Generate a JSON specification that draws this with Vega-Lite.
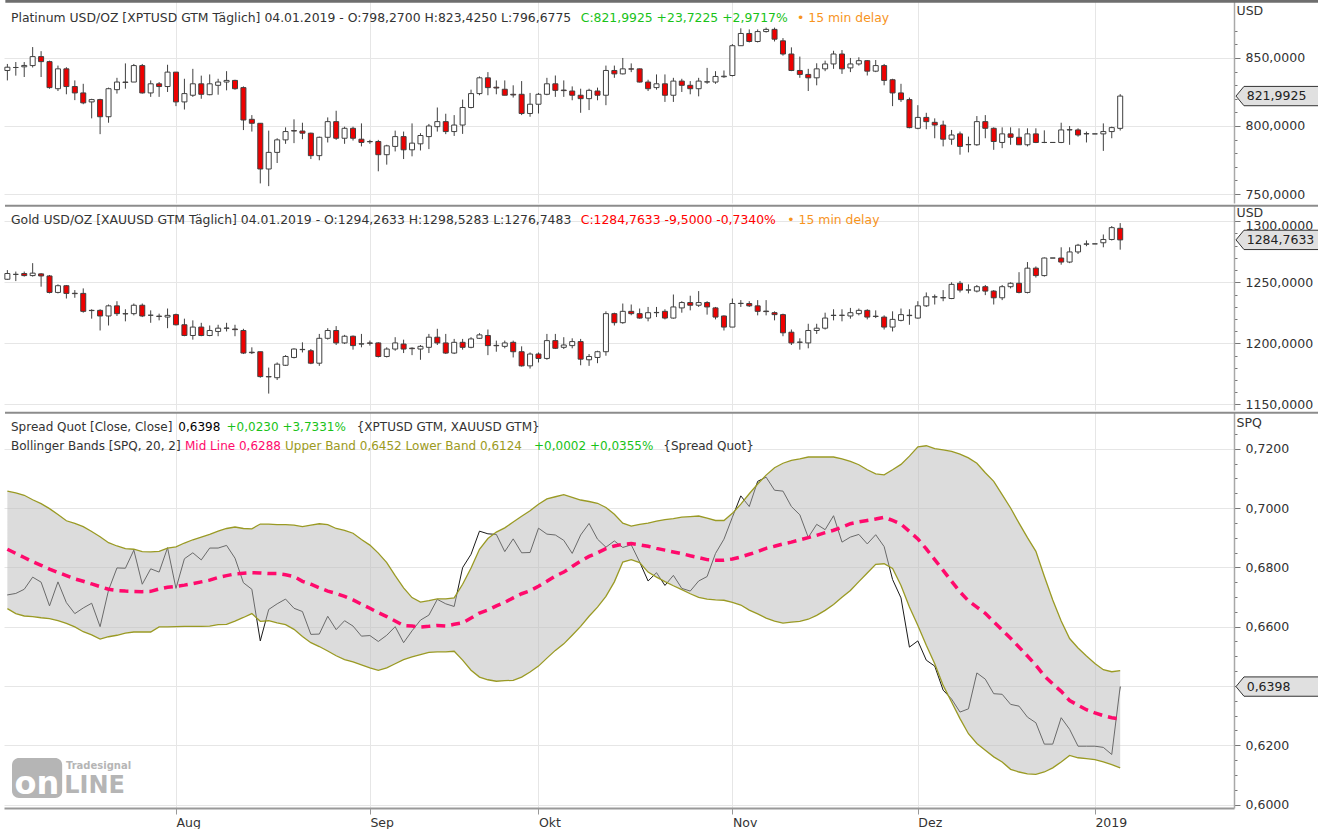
{
  "$schema": "https://vega.github.io/schema/vega-lite/v6.json",
  "usermeta": {"embedOptions": {"actions": false}},
  "padding": 0,
  "background": "white",
  "spacing": 2,
  "bounds": "flush",
  "config": {
    "font": "DejaVu Sans",
    "view": {"stroke": null},
    "bar": {"continuousBandSize": 5},
    "axis": {
      "labelFont": "DejaVu Sans", "labelFontSize": 12.5, "labelColor": "#333333", "labelOverlap": false,
      "gridColor": "#e6e6e6", "gridWidth": 1,
      "domainColor": "#a8a8a8", "tickColor": "#777777",
      "titleFont": "DejaVu Sans", "titleFontSize": 12.5, "titleFontWeight": "normal", "titleColor": "#333333"
    }
  },
  "datasets": {
    "plat": [
      {"i":0,"o":840.8,"h":845.6,"l":833.5,"c":843.2},{"i":1,"o":843,"h":847,"l":837,"c":843},{"i":2,"o":843.5,"h":847,"l":836,"c":844.5},{"i":3,"o":844.4,"h":858,"l":843,"c":851},{"i":4,"o":851,"h":855,"l":836,"c":847.3},
      {"i":5,"o":847.3,"h":848,"l":827.4,"c":828.2},{"i":6,"o":827.4,"h":844.4,"l":825.7,"c":842},{"i":7,"o":842,"h":843.2,"l":823.3,"c":829},{"i":8,"o":829,"h":833.5,"l":819,"c":824.3},{"i":9,"o":824.3,"h":831,"l":816,"c":817},
      {"i":10,"o":817.7,"h":820,"l":805.6,"c":819.4},{"i":11,"o":819.4,"h":820,"l":794,"c":806.8},{"i":12,"o":806.8,"h":828.2,"l":802.4,"c":827.4},{"i":13,"o":826.7,"h":835.4,"l":823.8,"c":832.3},{"i":14,"o":832.3,"h":846,"l":827.4,"c":832},
      {"i":15,"o":832.3,"h":845.6,"l":832.3,"c":844.4},{"i":16,"o":844.4,"h":845.6,"l":823.8,"c":824.3},{"i":17,"o":824.3,"h":833.5,"l":821.4,"c":831},{"i":18,"o":831,"h":832.3,"l":821.4,"c":829},{"i":19,"o":829,"h":845,"l":825,"c":839.6},
      {"i":20,"o":839.6,"h":839.6,"l":814.6,"c":817.7},{"i":21,"o":817.7,"h":834.7,"l":812.1,"c":823.8},{"i":22,"o":822.6,"h":842,"l":821.4,"c":831},{"i":23,"o":831,"h":837,"l":820,"c":823.3},{"i":24,"o":823,"h":837.9,"l":822.6,"c":831},
      {"i":25,"o":829.9,"h":834.7,"l":823,"c":832.3},{"i":26,"o":832.3,"h":840.3,"l":826.2,"c":833.5},{"i":27,"o":833.5,"h":834,"l":826.7,"c":827.4},{"i":28,"o":828.2,"h":829.1,"l":797,"c":804.4},{"i":29,"o":804.9,"h":808,"l":795.9,"c":802},
      {"i":30,"o":802,"h":802,"l":757.8,"c":768.4},{"i":31,"o":768.4,"h":796.6,"l":755.8,"c":780.6},{"i":32,"o":780.6,"h":791,"l":772.8,"c":789.8},{"i":33,"o":789.8,"h":799,"l":786.9,"c":795.9},{"i":34,"o":796.6,"h":804.9,"l":787.4,"c":796.3},
      {"i":35,"o":796.3,"h":802.4,"l":790.3,"c":794.7},{"i":36,"o":794.7,"h":795.1,"l":775.7,"c":778.2},{"i":37,"o":778.2,"h":792.2,"l":774.8,"c":791.7},{"i":38,"o":791.7,"h":806.3,"l":787.9,"c":803.2},{"i":39,"o":803.2,"h":811.2,"l":789.8,"c":791},
      {"i":40,"o":791,"h":799.5,"l":786.9,"c":798.3},{"i":41,"o":798.3,"h":799.5,"l":789.3,"c":791},{"i":42,"o":790.3,"h":801.9,"l":785,"c":787.9},{"i":43,"o":788.6,"h":789.8,"l":786.9,"c":788.4},{"i":44,"o":788.6,"h":789.8,"l":766.7,"c":778.9},
      {"i":45,"o":778.9,"h":786.2,"l":771.6,"c":785.4},{"i":46,"o":785,"h":796.6,"l":781.3,"c":792.2},{"i":47,"o":792.2,"h":795.9,"l":775.7,"c":782.5},{"i":48,"o":782.5,"h":801.9,"l":777.7,"c":787.4},{"i":49,"o":786.9,"h":794.7,"l":782,"c":793},
      {"i":50,"o":792.2,"h":801.5,"l":783,"c":800},{"i":51,"o":799.5,"h":813.6,"l":795.9,"c":803.2},{"i":52,"o":803.2,"h":809,"l":794,"c":795.9},{"i":53,"o":795.9,"h":808,"l":792.7,"c":800.7},{"i":54,"o":800.7,"h":819.4,"l":794.2,"c":813.6},
      {"i":55,"o":813.6,"h":826.7,"l":812.9,"c":823.8},{"i":56,"o":823.8,"h":836.4,"l":822.6,"c":835.4},{"i":57,"o":835.4,"h":839.6,"l":822.6,"c":828.2},{"i":58,"o":828.5,"h":833.5,"l":823.3,"c":827.9},{"i":59,"o":827,"h":833.5,"l":822.6,"c":822.6},
      {"i":60,"o":823.3,"h":829.9,"l":820.9,"c":822.8},{"i":61,"o":823.3,"h":833,"l":808,"c":809.2},{"i":62,"o":809.2,"h":824.3,"l":806.8,"c":816},{"i":63,"o":816,"h":824.3,"l":809.2,"c":823.3},{"i":64,"o":823.3,"h":835.4,"l":822.6,"c":831},
      {"i":65,"o":831,"h":837.1,"l":821.4,"c":826.2},{"i":66,"o":826.4,"h":833.5,"l":821.4,"c":826},{"i":67,"o":825.7,"h":829.1,"l":818.9,"c":822.6},{"i":68,"o":822.6,"h":827.4,"l":809.7,"c":820.1},{"i":69,"o":820.1,"h":827.4,"l":811.7,"c":826.2},
      {"i":70,"o":825.7,"h":828.2,"l":818.9,"c":822.6},{"i":71,"o":822.6,"h":844.4,"l":815.3,"c":840.8},{"i":72,"o":840.8,"h":844.4,"l":835.4,"c":838.3},{"i":73,"o":838.3,"h":850,"l":837.9,"c":842},{"i":74,"o":842,"h":846,"l":839.6,"c":841.8},
      {"i":75,"o":842,"h":842.2,"l":832,"c":832.3},{"i":76,"o":832.3,"h":834,"l":825.7,"c":827.4},{"i":77,"o":828.2,"h":837.9,"l":826.7,"c":831},{"i":78,"o":831,"h":837.9,"l":817.7,"c":822.6},{"i":79,"o":822.6,"h":835.4,"l":817.7,"c":833},
      {"i":80,"o":833,"h":834.7,"l":825,"c":829.9},{"i":81,"o":829.9,"h":833,"l":823.3,"c":827.4},{"i":82,"o":827.4,"h":835.4,"l":821.8,"c":833},{"i":83,"o":832.3,"h":842.7,"l":831,"c":832.5},{"i":84,"o":832.3,"h":840.3,"l":831,"c":836.4},
      {"i":85,"o":836.2,"h":840.8,"l":835.4,"c":836.6},{"i":86,"o":837.1,"h":860.2,"l":836.4,"c":859},{"i":87,"o":859,"h":871.8,"l":859,"c":868},{"i":88,"o":868,"h":871,"l":861.4,"c":862.1},{"i":89,"o":862.1,"h":871,"l":861.4,"c":869.4},
      {"i":90,"o":869.4,"h":872.3,"l":868.7,"c":871},{"i":91,"o":871,"h":872.3,"l":862.1,"c":863.8},{"i":92,"o":862.6,"h":864.6,"l":851.7,"c":852.9},{"i":93,"o":852.9,"h":857.8,"l":840.3,"c":840.8},{"i":94,"o":840.8,"h":851,"l":835.4,"c":837.9},
      {"i":95,"o":837.9,"h":842,"l":825.7,"c":835.4},{"i":96,"o":835.4,"h":846.1,"l":829.9,"c":842},{"i":97,"o":842,"h":848,"l":840.3,"c":845.6},{"i":98,"o":845.6,"h":855.3,"l":842,"c":852.9},{"i":99,"o":852.9,"h":855.8,"l":838.3,"c":842},
      {"i":100,"o":842.7,"h":850,"l":839.6,"c":845.6},{"i":101,"o":845.6,"h":850.5,"l":844.4,"c":848},{"i":102,"o":848,"h":848.5,"l":837.1,"c":840.3},{"i":103,"o":840.3,"h":848.5,"l":839.6,"c":844.4},{"i":104,"o":844.4,"h":845.6,"l":829.9,"c":833.5},
      {"i":105,"o":834,"h":834.7,"l":814.6,"c":824.3},{"i":106,"o":824.3,"h":831,"l":817.7,"c":819.4},{"i":107,"o":819.4,"h":820.9,"l":798.3,"c":798.8},{"i":108,"o":798.3,"h":815.3,"l":797.6,"c":806.3},{"i":109,"o":806.3,"h":809.7,"l":797.6,"c":803.2},
      {"i":110,"o":802.7,"h":805.6,"l":791,"c":800.7},{"i":111,"o":800.7,"h":803.9,"l":785,"c":790.3},{"i":112,"o":790.3,"h":797.1,"l":786.2,"c":793.4},{"i":113,"o":794.2,"h":795.9,"l":778.9,"c":785},{"i":114,"o":786.2,"h":792.2,"l":780.6,"c":786.4},
      {"i":115,"o":786.2,"h":807.3,"l":785.4,"c":803.2},{"i":116,"o":803.2,"h":808,"l":791,"c":798.3},{"i":117,"o":798.3,"h":799,"l":782.5,"c":788.6},{"i":118,"o":787.9,"h":799,"l":783.7,"c":794.2},{"i":119,"o":794.2,"h":799,"l":786.2,"c":791.7},
      {"i":120,"o":791.7,"h":798.3,"l":786.2,"c":786.2},{"i":121,"o":786.2,"h":798.3,"l":785,"c":794.2},{"i":122,"o":794.2,"h":798.3,"l":787.4,"c":787.9},{"i":123,"o":787.9,"h":796.8,"l":787.4,"c":787.9},{"i":124,"o":787.9,"h":787.9,"l":787.9,"c":787.9},
      {"i":125,"o":787.9,"h":802.4,"l":787.4,"c":797.1},{"i":126,"o":797.1,"h":800,"l":786.2,"c":797.3},{"i":127,"o":797.1,"h":798.3,"l":792.2,"c":793.4},{"i":128,"o":794.4,"h":795.9,"l":787.9,"c":794.2},{"i":129,"o":794.2,"h":794.2,"l":794.2,"c":794.2},
      {"i":130,"o":794.2,"h":801.9,"l":781.7,"c":795.9},{"i":131,"o":795.9,"h":799.5,"l":791,"c":798.8},{"i":132,"o":798.27,"h":823.425,"l":796.6775,"c":821.9925}
    ],
    "gold": [
      {"i":0,"o":1252.5,"h":1260,"l":1252,"c":1257.2},{"i":1,"o":1256.5,"h":1258.8,"l":1251,"c":1256.5},{"i":2,"o":1257.2,"h":1258.8,"l":1254.7,"c":1255.5},{"i":3,"o":1255.5,"h":1265.7,"l":1254.7,"c":1257.5},{"i":4,"o":1256.9,"h":1257.5,"l":1246.4,"c":1255.2},
      {"i":5,"o":1255.2,"h":1256,"l":1240.9,"c":1241.7},{"i":6,"o":1241.7,"h":1248.3,"l":1240.9,"c":1247.2},{"i":7,"o":1247.2,"h":1247.8,"l":1236.7,"c":1240.9},{"i":8,"o":1241,"h":1243.6,"l":1237.3,"c":1240.7},{"i":9,"o":1240.9,"h":1245,"l":1225.1,"c":1226.2},
      {"i":10,"o":1227,"h":1227.9,"l":1220.2,"c":1226.8},{"i":11,"o":1227,"h":1227.9,"l":1210.5,"c":1222.4},{"i":12,"o":1222.4,"h":1231.8,"l":1214.6,"c":1230.7},{"i":13,"o":1230.7,"h":1234.5,"l":1222.4,"c":1224.3},{"i":14,"o":1224.3,"h":1227.9,"l":1218,"c":1224.1},
      {"i":15,"o":1224.3,"h":1232.6,"l":1222.9,"c":1231.2},{"i":16,"o":1231.2,"h":1232.6,"l":1221.5,"c":1222.4},{"i":17,"o":1223,"h":1227,"l":1216.8,"c":1223},{"i":18,"o":1222.3,"h":1224.3,"l":1218.8,"c":1222},{"i":19,"o":1221.5,"h":1228.5,"l":1212.4,"c":1222.9},
      {"i":20,"o":1223.5,"h":1224.3,"l":1214.6,"c":1215.2},{"i":21,"o":1215.2,"h":1220.2,"l":1205.8,"c":1206.4},{"i":22,"o":1206.4,"h":1218.8,"l":1203,"c":1213.3},{"i":23,"o":1213.3,"h":1216.8,"l":1205.8,"c":1206.4},{"i":24,"o":1206.4,"h":1214.6,"l":1205.8,"c":1210.5},
      {"i":25,"o":1209.7,"h":1215.2,"l":1205.8,"c":1212.4},{"i":26,"o":1212.3,"h":1216.8,"l":1209.7,"c":1212.5},{"i":27,"o":1211.7,"h":1215.2,"l":1205.8,"c":1211.2},{"i":28,"o":1210.5,"h":1211.9,"l":1191.2,"c":1192},{"i":29,"o":1192.7,"h":1196.7,"l":1191.2,"c":1192.3},
      {"i":30,"o":1193.1,"h":1193.1,"l":1171.8,"c":1172.7},{"i":31,"o":1172.7,"h":1180.1,"l":1158.8,"c":1172.5},{"i":32,"o":1171.8,"h":1184.3,"l":1169.9,"c":1182.9},{"i":33,"o":1182,"h":1190.3,"l":1181.5,"c":1189.2},{"i":34,"o":1188.4,"h":1195.9,"l":1187.6,"c":1195.3},
      {"i":35,"o":1195,"h":1200.8,"l":1192.5,"c":1194.8},{"i":36,"o":1193.9,"h":1195.3,"l":1182.9,"c":1183.7},{"i":37,"o":1183.7,"h":1207.7,"l":1181.5,"c":1204.1},{"i":38,"o":1204.1,"h":1212.4,"l":1203,"c":1210.5},{"i":39,"o":1210.5,"h":1214.1,"l":1198.6,"c":1200.3},
      {"i":40,"o":1200.3,"h":1206.9,"l":1199.4,"c":1205.8},{"i":41,"o":1205.8,"h":1206.4,"l":1194.8,"c":1198.1},{"i":42,"o":1199.4,"h":1207.7,"l":1196.7,"c":1199.6},{"i":43,"o":1200.3,"h":1202.2,"l":1198.1,"c":1200},{"i":44,"o":1200.3,"h":1200.8,"l":1188.4,"c":1189.2},
      {"i":45,"o":1189.2,"h":1196.7,"l":1188.4,"c":1195.3},{"i":46,"o":1195.3,"h":1205,"l":1193.9,"c":1200.3},{"i":47,"o":1199.4,"h":1203,"l":1192,"c":1195.3},{"i":48,"o":1196,"h":1196.7,"l":1190.3,"c":1195.6},{"i":49,"o":1195.3,"h":1198.6,"l":1186.5,"c":1197.5},
      {"i":50,"o":1196.7,"h":1207.7,"l":1192,"c":1205},{"i":51,"o":1205,"h":1211.9,"l":1198.6,"c":1200.3},{"i":52,"o":1200.3,"h":1207.7,"l":1191.2,"c":1192},{"i":53,"o":1192,"h":1203.6,"l":1191.2,"c":1200.8},{"i":54,"o":1200.8,"h":1203.6,"l":1194.8,"c":1196.7},
      {"i":55,"o":1196.7,"h":1205,"l":1195.9,"c":1203.6},{"i":56,"o":1204.1,"h":1208.3,"l":1203.6,"c":1206.9},{"i":57,"o":1206.4,"h":1211.3,"l":1190.3,"c":1198.1},{"i":58,"o":1198.3,"h":1202.2,"l":1193.1,"c":1198},{"i":59,"o":1197.5,"h":1202.2,"l":1195.9,"c":1200.3},
      {"i":60,"o":1200.8,"h":1202.2,"l":1188.4,"c":1193.1},{"i":61,"o":1193.1,"h":1197.5,"l":1180.9,"c":1181.5},{"i":62,"o":1181.5,"h":1192.5,"l":1179.3,"c":1191.2},{"i":63,"o":1191.2,"h":1192.5,"l":1184.3,"c":1187.6},{"i":64,"o":1187.6,"h":1207.7,"l":1186.5,"c":1202.2},
      {"i":65,"o":1202.2,"h":1207.7,"l":1195.3,"c":1195.9},{"i":66,"o":1196.7,"h":1205,"l":1195.3,"c":1198.6},{"i":67,"o":1198.1,"h":1204.1,"l":1195.9,"c":1201.4},{"i":68,"o":1201.4,"h":1203.6,"l":1182,"c":1187},{"i":69,"o":1186.5,"h":1191.2,"l":1181.5,"c":1189.2},
      {"i":70,"o":1188.4,"h":1193.9,"l":1183.7,"c":1193.1},{"i":71,"o":1193.1,"h":1226.2,"l":1189.8,"c":1224.3},{"i":72,"o":1224.3,"h":1225.1,"l":1214.6,"c":1216.9},{"i":73,"o":1216.9,"h":1232.6,"l":1216,"c":1226.2},{"i":74,"o":1226.2,"h":1231.8,"l":1223,"c":1224.3},
      {"i":75,"o":1224.3,"h":1228.5,"l":1220.2,"c":1220.7},{"i":76,"o":1220.7,"h":1229.8,"l":1218,"c":1225.1},{"i":77,"o":1225.1,"h":1229.8,"l":1221.5,"c":1225.3},{"i":78,"o":1226.2,"h":1227.9,"l":1219.6,"c":1220.7},{"i":79,"o":1220.7,"h":1240,"l":1220.2,"c":1229.8},
      {"i":80,"o":1229,"h":1234.5,"l":1225.1,"c":1233.4},{"i":81,"o":1233.4,"h":1239,"l":1227,"c":1231.2},{"i":82,"o":1231.2,"h":1242.8,"l":1229.8,"c":1233.4},{"i":83,"o":1233.4,"h":1234.5,"l":1223.5,"c":1229.8},{"i":84,"o":1229,"h":1229.8,"l":1219.6,"c":1221.5},
      {"i":85,"o":1222.4,"h":1222.9,"l":1210.5,"c":1213.3},{"i":86,"o":1213.3,"h":1236.7,"l":1213.3,"c":1232.6},{"i":87,"o":1232.6,"h":1235.4,"l":1229.8,"c":1232.8},{"i":88,"o":1232.6,"h":1234.5,"l":1229.8,"c":1230.7},{"i":89,"o":1230.7,"h":1235.4,"l":1222.9,"c":1226.2},
      {"i":90,"o":1226.4,"h":1235.4,"l":1222.9,"c":1226},{"i":91,"o":1225.1,"h":1226.2,"l":1218.8,"c":1223.5},{"i":92,"o":1223.5,"h":1224.3,"l":1205.8,"c":1208.6},{"i":93,"o":1209.1,"h":1211.3,"l":1198.6,"c":1200.3},{"i":94,"o":1200.8,"h":1204.1,"l":1194.8,"c":1201},
      {"i":95,"o":1200.3,"h":1216,"l":1195.9,"c":1210.5},{"i":96,"o":1210.5,"h":1216,"l":1207.7,"c":1212.4},{"i":97,"o":1212.4,"h":1225.1,"l":1211.3,"c":1220.7},{"i":98,"o":1222.8,"h":1227.9,"l":1218.8,"c":1223},{"i":99,"o":1223,"h":1227.9,"l":1218,"c":1222.9},
      {"i":100,"o":1222.4,"h":1229,"l":1220.2,"c":1225.1},{"i":101,"o":1224.3,"h":1228.5,"l":1222.9,"c":1227},{"i":102,"o":1227,"h":1227.9,"l":1219.6,"c":1221.5},{"i":103,"o":1222.2,"h":1227,"l":1220.7,"c":1222},{"i":104,"o":1221.5,"h":1222.9,"l":1211.3,"c":1213.3},
      {"i":105,"o":1213.3,"h":1226.2,"l":1209.7,"c":1219.6},{"i":106,"o":1218.8,"h":1228.5,"l":1218,"c":1223.5},{"i":107,"o":1222.7,"h":1227.9,"l":1215.2,"c":1223},{"i":108,"o":1220.7,"h":1234.5,"l":1220.2,"c":1230.7},{"i":109,"o":1230.7,"h":1241.7,"l":1229.8,"c":1238.1},
      {"i":110,"o":1238,"h":1240,"l":1231.8,"c":1238.1},{"i":111,"o":1237.2,"h":1243.6,"l":1234.5,"c":1237.5},{"i":112,"o":1236.7,"h":1250,"l":1236.2,"c":1248.3},{"i":113,"o":1249.2,"h":1251.1,"l":1241.7,"c":1243.6},{"i":114,"o":1243.6,"h":1248.3,"l":1240.9,"c":1243.8},
      {"i":115,"o":1242.8,"h":1247.8,"l":1241.7,"c":1246.4},{"i":116,"o":1246.4,"h":1247.8,"l":1239.5,"c":1242.8},{"i":117,"o":1242.8,"h":1243.6,"l":1231.8,"c":1237.3},{"i":118,"o":1237.3,"h":1247.8,"l":1235.4,"c":1246.4},{"i":119,"o":1246.4,"h":1250,"l":1245,"c":1249.2},
      {"i":120,"o":1249.2,"h":1258.3,"l":1240.9,"c":1241.7},{"i":121,"o":1241.7,"h":1266.6,"l":1240.9,"c":1261.6},{"i":122,"o":1261.6,"h":1263,"l":1253.9,"c":1255.5},{"i":123,"o":1255.5,"h":1270.4,"l":1254.7,"c":1269.9},{"i":124,"o":1269.9,"h":1269.9,"l":1269.9,"c":1269.9},
      {"i":125,"o":1269.9,"h":1278.7,"l":1264.4,"c":1266.6},{"i":126,"o":1266.6,"h":1278.7,"l":1265.7,"c":1274.9},{"i":127,"o":1274.9,"h":1281.5,"l":1273.2,"c":1280.4},{"i":128,"o":1281.2,"h":1284.3,"l":1279.6,"c":1281.5},{"i":129,"o":1281.5,"h":1281.5,"l":1281.5,"c":1281.5},
      {"i":130,"o":1282.4,"h":1289.2,"l":1278.7,"c":1285.1},{"i":131,"o":1285.1,"h":1296.1,"l":1284.3,"c":1294.8},{"i":132,"o":1294.2633,"h":1298.5283,"l":1276.7483,"c":1284.7633}
    ],
    "spq": [
      {"i":0,"s":0.6707,"m":0.6861,"u":0.7057,"lo":0.6661},{"i":1,"s":0.6712,"m":0.6847,"u":0.7051,"lo":0.6644},{"i":2,"s":0.6726,"m":0.6833,"u":0.7043,"lo":0.6636},{"i":3,"s":0.6767,"m":0.6819,"u":0.7028,"lo":0.6634},{"i":4,"s":0.675,"m":0.6807,"u":0.7015,"lo":0.663},
      {"i":5,"s":0.667,"m":0.6794,"u":0.6998,"lo":0.6627},{"i":6,"s":0.6751,"m":0.6783,"u":0.6978,"lo":0.662},{"i":7,"s":0.6681,"m":0.6772,"u":0.6957,"lo":0.6611},{"i":8,"s":0.6644,"m":0.6761,"u":0.6948,"lo":0.6599},{"i":9,"s":0.6663,"m":0.6753,"u":0.6937,"lo":0.6583},
      {"i":10,"s":0.6679,"m":0.6744,"u":0.6921,"lo":0.6572},{"i":11,"s":0.66,"m":0.6735,"u":0.6903,"lo":0.6558},{"i":12,"s":0.6723,"m":0.6726,"u":0.6883,"lo":0.6566},{"i":13,"s":0.6798,"m":0.6722,"u":0.6872,"lo":0.6571},{"i":14,"s":0.6797,"m":0.672,"u":0.6863,"lo":0.6578},
      {"i":15,"s":0.6858,"m":0.6719,"u":0.6861,"lo":0.6582},{"i":16,"s":0.6743,"m":0.6718,"u":0.6853,"lo":0.6582},{"i":17,"s":0.6795,"m":0.6719,"u":0.6852,"lo":0.6582},{"i":18,"s":0.6784,"m":0.6727,"u":0.6854,"lo":0.6599},{"i":19,"s":0.6866,"m":0.6733,"u":0.6865,"lo":0.6599},
      {"i":20,"s":0.6729,"m":0.6736,"u":0.6869,"lo":0.66},{"i":21,"s":0.6829,"m":0.674,"u":0.6882,"lo":0.6601},{"i":22,"s":0.6849,"m":0.6745,"u":0.6893,"lo":0.6601},{"i":23,"s":0.6825,"m":0.6751,"u":0.6902,"lo":0.6601},{"i":24,"s":0.6865,"m":0.6757,"u":0.6911,"lo":0.6602},
      {"i":25,"s":0.6865,"m":0.6766,"u":0.6922,"lo":0.6607},{"i":26,"s":0.6874,"m":0.6772,"u":0.6931,"lo":0.6608},{"i":27,"s":0.6831,"m":0.6778,"u":0.6936,"lo":0.6619},{"i":28,"s":0.6748,"m":0.678,"u":0.6931,"lo":0.6631},{"i":29,"s":0.6726,"m":0.6782,"u":0.693,"lo":0.6644},
      {"i":30,"s":0.6552,"m":0.6781,"u":0.6946,"lo":0.6618},{"i":31,"s":0.6658,"m":0.6779,"u":0.6946,"lo":0.662},{"i":32,"s":0.6677,"m":0.6779,"u":0.6944,"lo":0.6613},{"i":33,"s":0.6693,"m":0.6775,"u":0.6944,"lo":0.6607},{"i":34,"s":0.6662,"m":0.6769,"u":0.6942,"lo":0.6591},
      {"i":35,"s":0.6651,"m":0.6753,"u":0.6937,"lo":0.6567},{"i":36,"s":0.6574,"m":0.6743,"u":0.6942,"lo":0.6546},{"i":37,"s":0.6575,"m":0.6731,"u":0.6947,"lo":0.6533},{"i":38,"s":0.6635,"m":0.672,"u":0.6944,"lo":0.6518},{"i":39,"s":0.659,"m":0.6712,"u":0.6931,"lo":0.6502},
      {"i":40,"s":0.662,"m":0.6702,"u":0.6925,"lo":0.6489},{"i":41,"s":0.6602,"m":0.669,"u":0.6915,"lo":0.6481},{"i":42,"s":0.6568,"m":0.6676,"u":0.6894,"lo":0.6471},{"i":43,"s":0.657,"m":0.6662,"u":0.6875,"lo":0.6461},{"i":44,"s":0.655,"m":0.6647,"u":0.6848,"lo":0.6453},
      {"i":45,"s":0.6571,"m":0.6634,"u":0.6816,"lo":0.6461},{"i":46,"s":0.66,"m":0.6619,"u":0.6772,"lo":0.6475},{"i":47,"s":0.6546,"m":0.6604,"u":0.6731,"lo":0.6489},{"i":48,"s":0.6586,"m":0.6602,"u":0.6698,"lo":0.6498},{"i":49,"s":0.6622,"m":0.6599,"u":0.6683,"lo":0.6506},
      {"i":50,"s":0.6639,"m":0.6601,"u":0.6688,"lo":0.6513},{"i":51,"s":0.6692,"m":0.6604,"u":0.6694,"lo":0.6515},{"i":52,"s":0.6677,"m":0.6602,"u":0.6694,"lo":0.6515},{"i":53,"s":0.6668,"m":0.6608,"u":0.6697,"lo":0.6517},{"i":54,"s":0.6799,"m":0.6613,"u":0.6743,"lo":0.6487},
      {"i":55,"s":0.6844,"m":0.6629,"u":0.6798,"lo":0.6453},{"i":56,"s":0.6922,"m":0.6646,"u":0.6861,"lo":0.643},{"i":57,"s":0.6913,"m":0.6656,"u":0.6897,"lo":0.6421},{"i":58,"s":0.6911,"m":0.667,"u":0.6919,"lo":0.6416},{"i":59,"s":0.6853,"m":0.6682,"u":0.6933,"lo":0.6418},
      {"i":60,"s":0.6896,"m":0.6697,"u":0.6953,"lo":0.6419},{"i":61,"s":0.6849,"m":0.6711,"u":0.6972,"lo":0.643},{"i":62,"s":0.685,"m":0.6721,"u":0.6991,"lo":0.6447},{"i":63,"s":0.6932,"m":0.6736,"u":0.7013,"lo":0.6467},{"i":64,"s":0.6912,"m":0.6753,"u":0.7031,"lo":0.6494},
      {"i":65,"s":0.6909,"m":0.6771,"u":0.7038,"lo":0.652},{"i":66,"s":0.6891,"m":0.6784,"u":0.7045,"lo":0.6542},{"i":67,"s":0.6847,"m":0.6803,"u":0.7036,"lo":0.6571},{"i":68,"s":0.6909,"m":0.6821,"u":0.7027,"lo":0.6601},{"i":69,"s":0.6948,"m":0.6837,"u":0.7022,"lo":0.6635},
      {"i":70,"s":0.6895,"m":0.6849,"u":0.7016,"lo":0.6666},{"i":71,"s":0.6868,"m":0.6863,"u":0.7002,"lo":0.6702},{"i":72,"s":0.6889,"m":0.6872,"u":0.6979,"lo":0.6751},{"i":73,"s":0.6867,"m":0.6878,"u":0.6949,"lo":0.6818},{"i":74,"s":0.6876,"m":0.688,"u":0.6939,"lo":0.6826},
      {"i":75,"s":0.6818,"m":0.6876,"u":0.6945,"lo":0.6816},{"i":76,"s":0.6754,"m":0.6871,"u":0.6949,"lo":0.6784},{"i":77,"s":0.6782,"m":0.6864,"u":0.6956,"lo":0.6767},{"i":78,"s":0.6739,"m":0.6858,"u":0.6961,"lo":0.6752},{"i":79,"s":0.6773,"m":0.6852,"u":0.6964,"lo":0.6738},
      {"i":80,"s":0.6729,"m":0.6846,"u":0.6969,"lo":0.6725},{"i":81,"s":0.672,"m":0.6839,"u":0.6971,"lo":0.6711},{"i":82,"s":0.6754,"m":0.6833,"u":0.6973,"lo":0.6699},{"i":83,"s":0.6769,"m":0.6826,"u":0.6966,"lo":0.6693},{"i":84,"s":0.6847,"m":0.6824,"u":0.6958,"lo":0.669},
      {"i":85,"s":0.6895,"m":0.6824,"u":0.6958,"lo":0.6689},{"i":86,"s":0.6969,"m":0.6828,"u":0.6982,"lo":0.6682},{"i":87,"s":0.7041,"m":0.6835,"u":0.7013,"lo":0.6673},{"i":88,"s":0.7005,"m":0.6844,"u":0.7048,"lo":0.6656},{"i":89,"s":0.709,"m":0.6853,"u":0.7081,"lo":0.6643},
      {"i":90,"s":0.7104,"m":0.6864,"u":0.7111,"lo":0.6629},{"i":91,"s":0.706,"m":0.6871,"u":0.7136,"lo":0.6619},{"i":92,"s":0.7057,"m":0.6879,"u":0.7151,"lo":0.6612},{"i":93,"s":0.7005,"m":0.6885,"u":0.7161,"lo":0.6615},{"i":94,"s":0.6977,"m":0.6893,"u":0.7166,"lo":0.6618},
      {"i":95,"s":0.6901,"m":0.69,"u":0.7172,"lo":0.6625},{"i":96,"s":0.6945,"m":0.6908,"u":0.7172,"lo":0.6638},{"i":97,"s":0.6927,"m":0.6917,"u":0.7172,"lo":0.6655},{"i":98,"s":0.6974,"m":0.6925,"u":0.7172,"lo":0.6675},{"i":99,"s":0.6885,"m":0.6935,"u":0.7166,"lo":0.6699},
      {"i":100,"s":0.6902,"m":0.6947,"u":0.7157,"lo":0.6722},{"i":101,"s":0.6911,"m":0.6953,"u":0.7146,"lo":0.6752},{"i":102,"s":0.6879,"m":0.6958,"u":0.7129,"lo":0.6781},{"i":103,"s":0.691,"m":0.6963,"u":0.7115,"lo":0.681},{"i":104,"s":0.687,"m":0.6969,"u":0.7112,"lo":0.6812},
      {"i":105,"s":0.6759,"m":0.6958,"u":0.7129,"lo":0.6796},{"i":106,"s":0.6697,"m":0.6946,"u":0.7147,"lo":0.6739},{"i":107,"s":0.6531,"m":0.6921,"u":0.7175,"lo":0.6666},{"i":108,"s":0.6552,"m":0.6896,"u":0.7206,"lo":0.6604},{"i":109,"s":0.6487,"m":0.6862,"u":0.721,"lo":0.6537},
      {"i":110,"s":0.6467,"m":0.6826,"u":0.72,"lo":0.6475},{"i":111,"s":0.6386,"m":0.679,"u":0.7196,"lo":0.6402},{"i":112,"s":0.6356,"m":0.6753,"u":0.7191,"lo":0.6346},{"i":113,"s":0.6312,"m":0.6717,"u":0.7182,"lo":0.629},{"i":114,"s":0.6323,"m":0.6687,"u":0.7169,"lo":0.6239},
      {"i":115,"s":0.6444,"m":0.6666,"u":0.7151,"lo":0.6206},{"i":116,"s":0.6423,"m":0.6645,"u":0.7119,"lo":0.6183},{"i":117,"s":0.6374,"m":0.6617,"u":0.709,"lo":0.6161},{"i":118,"s":0.6372,"m":0.6589,"u":0.7045,"lo":0.6144},{"i":119,"s":0.6338,"m":0.6561,"u":0.7,"lo":0.6119},
      {"i":120,"s":0.6332,"m":0.6531,"u":0.6949,"lo":0.611},{"i":121,"s":0.6295,"m":0.6501,"u":0.69,"lo":0.6104},{"i":122,"s":0.6276,"m":0.647,"u":0.6854,"lo":0.6102},{"i":123,"s":0.6204,"m":0.6434,"u":0.677,"lo":0.611},{"i":124,"s":0.6204,"m":0.6407,"u":0.669,"lo":0.6124},
      {"i":125,"s":0.6293,"m":0.6382,"u":0.6619,"lo":0.6144},{"i":126,"s":0.6254,"m":0.6351,"u":0.656,"lo":0.6166},{"i":127,"s":0.6197,"m":0.6335,"u":0.6528,"lo":0.6158},{"i":128,"s":0.6197,"m":0.632,"u":0.6501,"lo":0.6155},{"i":129,"s":0.6197,"m":0.6309,"u":0.6476,"lo":0.6152},
      {"i":130,"s":0.6193,"m":0.63,"u":0.6455,"lo":0.6144},{"i":131,"s":0.6169,"m":0.6293,"u":0.6448,"lo":0.6135},{"i":132,"s":0.6398,"m":0.6288,"u":0.6452,"lo":0.6124}
    ]
  },
  "vconcat": [
    {
      "width": 1230,
      "height": 203,
      "data": {"name": "plat"},
      "encoding": {
        "x": {
          "field": "i", "type": "quantitative",
          "scale": {"domain": [-0.4, 145.5], "nice": false, "zero": false, "padding": 0},
          "axis": {"values": [20, 43, 63, 86, 108, 129], "labels": false, "ticks": false, "domain": false, "grid": true, "title": null}
        }
      },
      "layer": [
        {
          "mark": {"type": "rule", "color": "#404040", "strokeWidth": 1},
          "encoding": {
            "y": {
              "field": "l", "type": "quantitative",
              "scale": {"domain": [743.4, 892.6], "nice": false, "zero": false},
              "axis": {
                "orient": "right",
                "values": [750, 760, 770, 780, 790, 800, 810, 820, 830, 840, 850, 860, 870],
                "tickCount": 100,
                "labelExpr": "round(datum.value) % 50 == 0 ? replace(format(datum.value, '.4f'), '.', ',') : ''",
                "labelOverlap": false, "labelBound": false,
                "labelFontSize": {"condition": {"test": "round(datum.value) % 50 == 0", "value": 12.5}, "value": 1},
                "tickSize": {"condition": {"test": "round(datum.value) % 50 == 0", "value": 6}, "value": 3},
                "gridOpacity": {"condition": {"test": "round(datum.value) % 50 == 0", "value": 1}, "value": 0},
                "labelPadding": 5, "domainWidth": 1.5,
                "title": "USD", "titleAngle": 0, "titleAlign": "left", "titleBaseline": "top", "titleX": 2, "titleY": 4
              }
            },
            "y2": {"field": "h"}
          }
        },
        {
          "mark": {"type": "bar", "stroke": "#404040", "strokeWidth": 1},
          "encoding": {
            "y": {"field": "o", "type": "quantitative", "title": "USD"},
            "y2": {"field": "c"},
            "fill": {"condition": {"test": "datum.c < datum.o", "value": "#ee0000"}, "value": "#ffffff"}
          }
        },
        {
          "transform": [{"filter": "datum.i == 0"}],
          "mark": {"type": "rule", "color": "#6e6e6e", "strokeWidth": 2.7},
          "encoding": {"x": {"datum": -0.24}, "x2": {"datum": 155.8}, "y": {"datum": 891.6}}
        },
        {
          "transform": [{"filter": "datum.i == 0"}],
          "mark": {"type": "text", "align": "left", "baseline": "middle", "fontSize": 12.4, "color": "#333333", "text": "Platinum USD/OZ [XPTUSD GTM Täglich] 04.01.2019 - O:798,2700 H:823,4250 L:796,6775"},
          "encoding": {"x": {"datum": 0.43}, "y": {"datum": 879.4}}
        },
        {
          "transform": [{"filter": "datum.i == 0"}],
          "mark": {"type": "text", "align": "left", "baseline": "middle", "fontSize": 12.4, "color": "#19c219", "text": "C:821,9925 +23,7225 +2,9717%"},
          "encoding": {"x": {"datum": 68.01}, "y": {"datum": 879.4}}
        },
        {
          "transform": [{"filter": "datum.i == 0"}],
          "mark": {"type": "text", "align": "left", "baseline": "middle", "fontSize": 12.4, "color": "#f7941d", "text": "• 15 min delay"},
          "encoding": {"x": {"datum": 93.67}, "y": {"datum": 879.4}}
        },
        {
          "transform": [{"filter": "datum.i == 132"}],
          "mark": {"type": "point", "shape": "M-1,0L-0.81,-0.23L1,-0.23L1,0.23L-0.81,0.23Z", "size": 7056, "filled": true, "fill": "#e0e0e0", "stroke": "#333333", "strokeWidth": 1, "opacity": 1, "xOffset": 157.8},
          "encoding": {"y": {"field": "c", "type": "quantitative", "title": "USD"}}
        },
        {
          "transform": [{"filter": "datum.i == 132"}],
          "mark": {"type": "text", "align": "left", "baseline": "middle", "fontSize": 12.5, "color": "#222222", "xOffset": 126.5, "text": "821,9925"},
          "encoding": {"y": {"field": "c", "type": "quantitative", "title": "USD"}}
        }
      ]
    },
    {
      "width": 1230,
      "height": 205,
      "data": {"name": "gold"},
      "encoding": {
        "x": {
          "field": "i", "type": "quantitative",
          "scale": {"domain": [-0.4, 145.5], "nice": false, "zero": false, "padding": 0},
          "axis": {"values": [20, 43, 63, 86, 108, 129], "labels": false, "ticks": false, "domain": false, "grid": true, "title": null}
        }
      },
      "layer": [
        {
          "mark": {"type": "rule", "color": "#404040", "strokeWidth": 1},
          "encoding": {
            "y": {
              "field": "l", "type": "quantitative",
              "scale": {"domain": [1145.33, 1313.36], "nice": false, "zero": false},
              "axis": {
                "orient": "right",
                "values": [1150, 1160, 1170, 1180, 1190, 1200, 1210, 1220, 1230, 1240, 1250, 1260, 1270, 1280, 1290, 1300],
                "tickCount": 100,
                "labelExpr": "round(datum.value) % 50 == 0 ? replace(format(datum.value, '.4f'), '.', ',') : ''",
                "labelOverlap": false, "labelBound": false,
                "labelFontSize": {"condition": {"test": "round(datum.value) % 50 == 0", "value": 12.5}, "value": 1},
                "labelOffset": {"condition": {"test": "round(datum.value) == 1300", "value": 4}, "value": 0},
                "tickSize": {"condition": {"test": "round(datum.value) % 50 == 0", "value": 6}, "value": 3},
                "gridOpacity": {"condition": {"test": "round(datum.value) % 50 == 0", "value": 1}, "value": 0},
                "labelPadding": 5, "domainWidth": 1.5,
                "title": "USD", "titleAngle": 0, "titleAlign": "left", "titleBaseline": "top", "titleX": 2, "titleY": 1
              }
            },
            "y2": {"field": "h"}
          }
        },
        {
          "mark": {"type": "bar", "stroke": "#404040", "strokeWidth": 1},
          "encoding": {
            "y": {"field": "o", "type": "quantitative", "title": "USD"},
            "y2": {"field": "c"},
            "fill": {"condition": {"test": "datum.c < datum.o", "value": "#ee0000"}, "value": "#ffffff"}
          }
        },
        {
          "transform": [{"filter": "datum.i == 0"}],
          "mark": {"type": "rule", "color": "#8c8c8c", "strokeWidth": 2},
          "encoding": {"x": {"datum": -0.28}, "x2": {"datum": 155.8}, "y": {"datum": 1312.8}}
        },
        {
          "transform": [{"filter": "datum.i == 0"}],
          "mark": {"type": "text", "align": "left", "baseline": "middle", "fontSize": 12.4, "color": "#333333", "text": "Gold USD/OZ [XAUUSD GTM Täglich] 04.01.2019 - O:1294,2633 H:1298,5283 L:1276,7483"},
          "encoding": {"x": {"datum": 0.43}, "y": {"datum": 1301.06}}
        },
        {
          "transform": [{"filter": "datum.i == 0"}],
          "mark": {"type": "text", "align": "left", "baseline": "middle", "fontSize": 12.4, "color": "#ff0000", "text": "C:1284,7633 -9,5000 -0,7340%"},
          "encoding": {"x": {"datum": 68.01}, "y": {"datum": 1301.06}}
        },
        {
          "transform": [{"filter": "datum.i == 0"}],
          "mark": {"type": "text", "align": "left", "baseline": "middle", "fontSize": 12.4, "color": "#f7941d", "text": "• 15 min delay"},
          "encoding": {"x": {"datum": 92.52}, "y": {"datum": 1301.06}}
        },
        {
          "transform": [{"filter": "datum.i == 132"}],
          "mark": {"type": "point", "shape": "M-1,0L-0.81,-0.23L1,-0.23L1,0.23L-0.81,0.23Z", "size": 7056, "filled": true, "fill": "#e0e0e0", "stroke": "#333333", "strokeWidth": 1, "opacity": 1, "xOffset": 157.8},
          "encoding": {"y": {"field": "c", "type": "quantitative", "title": "USD"}}
        },
        {
          "transform": [{"filter": "datum.i == 132"}],
          "mark": {"type": "text", "align": "left", "baseline": "middle", "fontSize": 12.5, "color": "#222222", "xOffset": 126.5, "text": "1284,7633"},
          "encoding": {"y": {"field": "c", "type": "quantitative", "title": "USD"}}
        }
      ]
    },
    {
      "width": 1230,
      "height": 396,
      "data": {"name": "spq"},
      "encoding": {
        "x": {
          "field": "i", "type": "quantitative",
          "scale": {"domain": [-0.4, 145.5], "nice": false, "zero": false, "padding": 0},
          "axis": {
            "values": [20, 43, 63, 86, 108, 129],
            "labelExpr": "datum.value == 20 ? 'Aug' : datum.value == 43 ? 'Sep' : datum.value == 63 ? 'Okt' : datum.value == 86 ? 'Nov' : datum.value == 108 ? 'Dez' : '2019'",
            "labelAlign": "left", "labelBaseline": "top", "labelFontSize": 12.5, "labelPadding": 2,
            "labelFlush": false,
            "tickSize": 6, "tickColor": "#999999", "domainColor": "#999999", "domainWidth": 2,
            "grid": true, "title": null
          }
        }
      },
      "layer": [
        {
          "mark": {"type": "line", "color": "#1a1a1a", "strokeWidth": 1},
          "encoding": {
            "y": {
              "field": "s", "type": "quantitative",
              "scale": {"domain": [0.598861, 0.732374], "nice": false, "zero": false},
              "axis": {
                "orient": "right",
                "values": [0.6, 0.605, 0.61, 0.615, 0.62, 0.625, 0.63, 0.635, 0.64, 0.645, 0.65, 0.655, 0.66, 0.665, 0.67, 0.675, 0.68, 0.685, 0.69, 0.695, 0.7, 0.705, 0.71, 0.715, 0.72, 0.725],
                "tickCount": 100,
                "labelExpr": "round(datum.value * 1000) % 20 == 0 ? replace(format(datum.value, '.4f'), '.', ',') : ''",
                "labelOverlap": false, "labelBound": false,
                "labelFontSize": {"condition": {"test": "round(datum.value * 1000) % 20 == 0", "value": 12.5}, "value": 1},
                "tickSize": {"condition": {"test": "round(datum.value * 1000) % 20 == 0", "value": 6}, "value": 3},
                "gridOpacity": {"condition": {"test": "round(datum.value * 1000) % 20 == 0", "value": 1}, "value": 0},
                "labelPadding": 5, "domainWidth": 1.5,
                "title": "SPQ", "titleAngle": 0, "titleAlign": "left", "titleBaseline": "top", "titleX": 2, "titleY": 4
              }
            }
          }
        },
        {
          "mark": {"type": "area", "color": "#b9b9b9", "opacity": 0.5},
          "encoding": {"y": {"field": "lo", "type": "quantitative", "title": "SPQ"}, "y2": {"field": "u"}}
        },
        {
          "mark": {"type": "line", "color": "#9a9a24", "strokeWidth": 1.3},
          "encoding": {"y": {"field": "u", "type": "quantitative", "title": "SPQ"}}
        },
        {
          "mark": {"type": "line", "color": "#9a9a24", "strokeWidth": 1.3},
          "encoding": {"y": {"field": "lo", "type": "quantitative", "title": "SPQ"}}
        },
        {
          "mark": {"type": "line", "color": "#ff0a6c", "strokeWidth": 3.5, "strokeDash": [9, 6]},
          "encoding": {"y": {"field": "m", "type": "quantitative", "title": "SPQ"}}
        },
        {
          "transform": [{"filter": "datum.i == 0"}],
          "mark": {"type": "rule", "color": "#8c8c8c", "strokeWidth": 2},
          "encoding": {"x": {"datum": -0.28}, "x2": {"datum": 155.8}, "y": {"datum": 0.7321}}
        },
        {
          "transform": [{"filter": "datum.i == 0"}],
          "mark": {"type": "text", "align": "left", "baseline": "middle", "fontSize": 12, "color": "#333333", "text": "Spread Quot [Close, Close]"},
          "encoding": {"x": {"datum": 0.43}, "y": {"datum": 0.72732}}
        },
        {
          "transform": [{"filter": "datum.i == 0"}],
          "mark": {"type": "text", "align": "left", "baseline": "middle", "fontSize": 12, "color": "#000000", "text": "0,6398"},
          "encoding": {"x": {"datum": 20.28}, "y": {"datum": 0.72732}}
        },
        {
          "transform": [{"filter": "datum.i == 0"}],
          "mark": {"type": "text", "align": "left", "baseline": "middle", "fontSize": 12, "color": "#19c219", "text": "+0,0230 +3,7331%"},
          "encoding": {"x": {"datum": 26.0}, "y": {"datum": 0.72732}}
        },
        {
          "transform": [{"filter": "datum.i == 0"}],
          "mark": {"type": "text", "align": "left", "baseline": "middle", "fontSize": 12, "color": "#333333", "text": "{XPTUSD GTM, XAUUSD GTM}"},
          "encoding": {"x": {"datum": 41.44}, "y": {"datum": 0.72732}}
        },
        {
          "transform": [{"filter": "datum.i == 0"}],
          "mark": {"type": "text", "align": "left", "baseline": "middle", "fontSize": 12, "color": "#333333", "text": "Bollinger Bands [SPQ, 20, 2]"},
          "encoding": {"x": {"datum": 0.43}, "y": {"datum": 0.72091}}
        },
        {
          "transform": [{"filter": "datum.i == 0"}],
          "mark": {"type": "text", "align": "left", "baseline": "middle", "fontSize": 12, "color": "#ff0a6c", "text": "Mid Line 0,6288"},
          "encoding": {"x": {"datum": 21.07}, "y": {"datum": 0.72091}}
        },
        {
          "transform": [{"filter": "datum.i == 0"}],
          "mark": {"type": "text", "align": "left", "baseline": "middle", "fontSize": 12, "color": "#9c9a1c", "text": "Upper Band 0,6452 Lower Band 0,6124"},
          "encoding": {"x": {"datum": 32.93}, "y": {"datum": 0.72091}}
        },
        {
          "transform": [{"filter": "datum.i == 0"}],
          "mark": {"type": "text", "align": "left", "baseline": "middle", "fontSize": 12, "color": "#19c219", "text": "+0,0002 +0,0355%"},
          "encoding": {"x": {"datum": 62.47}, "y": {"datum": 0.72091}}
        },
        {
          "transform": [{"filter": "datum.i == 0"}],
          "mark": {"type": "text", "align": "left", "baseline": "middle", "fontSize": 12, "color": "#333333", "text": "{Spread Quot}"},
          "encoding": {"x": {"datum": 77.81}, "y": {"datum": 0.72091}}
        },
        {
          "transform": [{"filter": "datum.i == 132"}],
          "mark": {"type": "point", "shape": "M-1,0L-0.81,-0.23L1,-0.23L1,0.23L-0.81,0.23Z", "size": 7056, "filled": true, "fill": "#e0e0e0", "stroke": "#333333", "strokeWidth": 1, "opacity": 1, "xOffset": 157.8},
          "encoding": {"y": {"field": "s", "type": "quantitative", "title": "SPQ"}}
        },
        {
          "transform": [{"filter": "datum.i == 132"}],
          "mark": {"type": "text", "align": "left", "baseline": "middle", "fontSize": 12.5, "color": "#222222", "xOffset": 126.5, "text": "0,6398"},
          "encoding": {"y": {"field": "s", "type": "quantitative", "title": "SPQ"}}
        },
        {
          "transform": [{"filter": "datum.i == 0"}],
          "mark": {"type": "rect", "color": "#b5b5b5", "cornerRadius": 7},
          "encoding": {"x": {"datum": 0.55}, "x2": {"datum": 6.5}, "y": {"datum": 0.6157}, "y2": {"datum": 0.6022}}
        },
        {
          "transform": [{"filter": "datum.i == 0"}],
          "mark": {"type": "text", "align": "center", "baseline": "alphabetic", "fontSize": 32, "fontWeight": "bold", "color": "#ffffff", "text": "on"},
          "encoding": {"x": {"datum": 3.5}, "y": {"datum": 0.60358}}
        },
        {
          "transform": [{"filter": "datum.i == 0"}],
          "mark": {"type": "text", "align": "left", "baseline": "alphabetic", "fontSize": 24, "fontWeight": "bold", "color": "#b5b5b5", "text": "LINE"},
          "encoding": {"x": {"datum": 6.75}, "y": {"datum": 0.60392}}
        },
        {
          "transform": [{"filter": "datum.i == 0"}],
          "mark": {"type": "text", "align": "left", "baseline": "alphabetic", "fontSize": 10, "fontWeight": "bold", "color": "#b5b5b5", "text": "Tradesignal"},
          "encoding": {"x": {"datum": 6.95}, "y": {"datum": 0.61201}}
        }
      ]
    }
  ]
}
